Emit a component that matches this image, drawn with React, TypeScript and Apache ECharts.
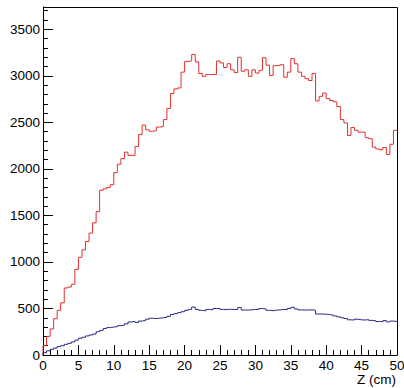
import React, { useEffect, useRef } from "react";
import * as echarts from "echarts";

const BIN_WIDTH = 0.5;
const X_MIN = 0;
const X_MAX = 50;
const Y_MAX = 3740;
const X_TITLE = "Z (cm)";

const redCounts = [
  100, 200, 280, 390, 480, 560, 720, 730, 760, 920,
  1050, 1130, 1220, 1310, 1420, 1540, 1770, 1785, 1800, 1830,
  1960, 2050, 2110, 2180, 2145, 2145, 2240, 2370, 2470, 2420,
  2405, 2410, 2450, 2455, 2530, 2650, 2810, 2860, 2870, 3040,
  3155, 3160, 3230, 3150, 3025, 2995, 3015, 3015, 3015, 3160,
  3140, 3090, 3130, 3065, 3035, 3200, 3050, 3065, 2995, 3065,
  3030, 3060, 3195, 3115, 3005, 3110, 3110, 3120, 2985, 3040,
  3185, 3130, 3040, 2995, 2970, 2950, 3025, 2730, 2780, 2815,
  2755, 2735, 2720, 2670, 2530, 2495, 2360, 2445, 2415, 2395,
  2395, 2335, 2325, 2235, 2215, 2205, 2230, 2155, 2265, 2415,
];

const blueCounts = [
  25, 45, 60, 75, 90, 100, 115, 125, 140, 160,
  180, 190, 205, 215, 225, 250, 265, 285, 295, 300,
  305, 315, 320, 335, 355, 360, 350, 365, 370, 385,
  395, 392, 395, 400, 405, 415, 435, 445, 455, 465,
  480, 490, 515, 490, 480, 475, 490, 485, 500, 500,
  490, 488, 492, 488, 490, 510, 483, 483, 485, 490,
  490, 500, 495, 480, 476, 482, 485, 490, 488, 500,
  512, 495, 485, 483, 483, 485, 480, 440, 440, 438,
  435, 428, 420, 410, 400, 392, 378, 376, 385, 378,
  376, 380, 372, 368, 360, 358, 370, 356, 365, 360,
];

function toSteps(counts: number[]): number[][] {
  const pts: number[][] = [[X_MIN, 0]];
  counts.forEach((v, i) => pts.push([X_MIN + i * BIN_WIDTH, v]));
  const last = counts[counts.length - 1];
  pts.push([X_MIN + counts.length * BIN_WIDTH, last]);
  return pts;
}

const FONT = "Liberation Sans, Arial, Helvetica, sans-serif";

export default function App() {
  const ref = useRef<HTMLDivElement>(null);
  useEffect(() => {
    if (!ref.current) return;
    const chart = echarts.init(ref.current, undefined, { renderer: "svg" });
    const labelStyle = { color: "#000", fontSize: 13.5, fontFamily: FONT };
    const fmt = (v: number) => String(v);
    chart.setOption({
      animation: false,
      backgroundColor: "#fff",
      grid: {
        left: 43,
        right: 7,
        top: 7,
        bottom: 33,
        show: false,
        containLabel: false,
        outerBoundsMode: "none",
      },
      xAxis: [
        {
          type: "value",
          min: X_MIN,
          max: X_MAX,
          interval: 5,
          position: "bottom",
          axisLine: { show: true, lineStyle: { color: "#000", width: 1 } },
          axisTick: { show: true, inside: true, length: 10, lineStyle: { color: "#000" } },
          minorTick: { show: true, splitNumber: 5, length: 5, lineStyle: { color: "#000" } },
          splitLine: { show: false },
          minorSplitLine: { show: false },
          axisLabel: { ...labelStyle, margin: 3, formatter: fmt },
        },
      ],
      yAxis: [
        {
          type: "value",
          min: 0,
          max: Y_MAX,
          interval: 500,
          position: "left",
          axisLine: { show: true, lineStyle: { color: "#000", width: 1 } },
          axisTick: { show: true, inside: true, length: 10, lineStyle: { color: "#000" } },
          splitLine: { show: false },
          axisLabel: { ...labelStyle, margin: 3, showMaxLabel: false, formatter: fmt },
        },
        {
          type: "value",
          min: 0,
          max: Y_MAX,
          interval: 100,
          position: "left",
          axisLine: { show: false },
          axisTick: { show: true, inside: true, length: 5, lineStyle: { color: "#000" } },
          splitLine: { show: false },
          axisLabel: { show: false },
        },
      ],
      series: [
        {
          type: "line",
          name: "red",
          step: "end",
          data: toSteps(redCounts),
          showSymbol: false,
          symbol: "none",
          lineStyle: { color: "#e0302c", width: 1 },
          itemStyle: { color: "#e0302c" },
          z: 3,
        },
        {
          type: "line",
          name: "blue",
          step: "end",
          data: toSteps(blueCounts),
          showSymbol: false,
          symbol: "none",
          lineStyle: { color: "#2a2a84", width: 1 },
          itemStyle: { color: "#2a2a84" },
          z: 3,
        },
      ],
      graphic: [
        {
          type: "polyline",
          shape: {
            points: [
              [43.5, 7.5],
              [397.5, 7.5],
              [397.5, 355.5],
            ],
          },
          style: { stroke: "#000", lineWidth: 1, fill: null },
          z: 10,
        },
        {
          type: "text",
          x: 396,
          y: 379,
          style: {
            text: X_TITLE,
            fill: "#000",
            fontSize: 13.5,
            fontFamily: FONT,
            align: "right",
            verticalAlign: "middle",
          },
        },
      ],
    });
    return () => chart.dispose();
  }, []);
  return (
    <div
      ref={ref}
      style={{ position: "absolute", left: 0, top: 0, width: 404, height: 388 }}
    />
  );
}
